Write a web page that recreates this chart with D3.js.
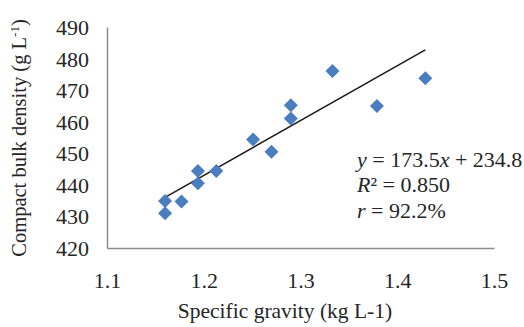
<!DOCTYPE html>
<html>
<head>
<meta charset="utf-8">
<script src="https://cdn.jsdelivr.net/npm/d3@7"></script>
<style>
  body { margin: 0; background: #fff; }
</style>
</head>
<body>
<svg id="svg" width="524" height="327"></svg>
<script>
// data
const gravity = [1.160, 1.160, 1.177, 1.194, 1.194, 1.213, 1.251, 1.270, 1.290, 1.290, 1.333, 1.379, 1.429];
const density = [431.0, 434.9, 434.7, 444.4, 440.5, 444.4, 454.4, 450.5, 465.2, 461.0, 476.1, 465.0, 473.8];
const xTicks = [1.1, 1.2, 1.3, 1.4, 1.5];
const yTicks = [420, 430, 440, 450, 460, 470, 480, 490];
const slope = 173.5, intercept = 234.8;

const serif = "'Liberation Serif', 'Times New Roman', serif";
const svg = d3.select("#svg");
const x = d3.scaleLinear().domain([1.1, 1.5]).range([107, 494]);
const y = d3.scaleLinear().domain([420, 490]).range([248, 27]);

// axes, no tick marks
const xAxis = svg.append("g").attr("transform", "translate(0,248)")
  .call(d3.axisBottom(x).tickValues(xTicks).tickSize(0).tickFormat(d3.format(".1f")));
const yAxis = svg.append("g").attr("transform", "translate(107,0)")
  .call(d3.axisLeft(y).tickValues(yTicks).tickSize(0));

[xAxis, yAxis].forEach(g => {
  g.attr("font-family", serif).attr("font-size", 22);
  g.select(".domain").attr("stroke", "#8c8c8c").attr("stroke-width", 1.5);
  g.selectAll("text").style("font-family", serif).style("font-size", "22px").attr("fill", "#262626");
});
xAxis.selectAll("text").attr("dy", 0).attr("y", 40);
yAxis.selectAll("text").attr("x", -18).attr("dy", "0.34em");

// trend line
const x0 = d3.min(gravity), x1 = d3.max(gravity);
svg.append("line")
  .attr("x1", x(x0)).attr("y1", y(slope * x0 + intercept))
  .attr("x2", x(x1)).attr("y2", y(slope * x1 + intercept))
  .attr("stroke", "#1a1a1a").attr("stroke-width", 1.5);

// points
svg.selectAll("path.pt")
  .data(gravity.map((g, i) => [g, density[i]]))
  .join("path")
  .attr("class", "pt")
  .attr("d", "M0,-7L7,0L0,7L-7,0Z")
  .attr("transform", d => `translate(${x(d[0])},${y(d[1])})`)
  .attr("fill", "#4a7ebf");

// fit text
function label(yy, parts) {
  const t = svg.append("text").attr("x", 357).attr("y", yy)
    .style("font-family", serif).style("font-size", "22px").attr("fill", "#262626");
  parts.forEach(p => t.append("tspan").style("font-style", p[1] ? "italic" : "normal").text(p[0]));
}
label(167, [["y", 1], [" = 173.5", 0], ["x", 1], [" + 234.8", 0]]);
label(192, [["R", 1], ["² = 0.850", 0]]);
label(218, [["r", 1], [" = 92.2%", 0]]);

// axis titles
svg.append("text")
  .attr("x", 285).attr("y", 318)
  .attr("text-anchor", "middle")
  .style("font-family", serif).style("font-size", "21.5px").attr("fill", "#262626")
  .text("Specific gravity (kg L-1)");

const yt = svg.append("text")
  .attr("transform", "translate(26,138) rotate(-90)")
  .attr("text-anchor", "middle")
  .style("font-family", serif).style("font-size", "20.5px").attr("fill", "#262626");
yt.append("tspan").text("Compact bulk density (g L");
yt.append("tspan").attr("dy", -7).style("font-size", "13px").text("-1");
yt.append("tspan").attr("dy", 7).text(")");
</script>
</body>
</html>
